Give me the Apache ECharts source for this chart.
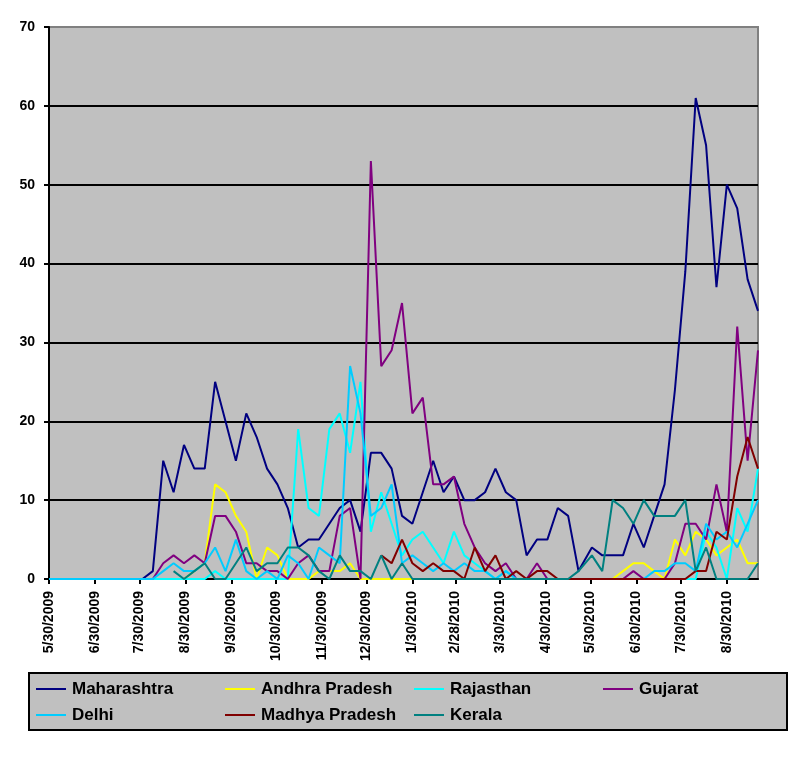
<!DOCTYPE html>
<html>
<head>
<meta charset="utf-8">
<script src="https://cdn.jsdelivr.net/npm/echarts@6/dist/echarts.min.js"></script>
<style>
html,body{margin:0;padding:0;background:#fff;}
#chart{width:791px;height:757px;}
</style>
</head>
<body>
<div id="chart"></div>
<script>
// ---- Data (weekly reports) ----
const weeks = ['2009-05-30','2009-06-06','2009-06-13','2009-06-20','2009-06-27','2009-07-04','2009-07-11','2009-07-18','2009-07-25','2009-08-01','2009-08-08','2009-08-15','2009-08-22','2009-08-29','2009-09-05','2009-09-12','2009-09-19','2009-09-26','2009-10-03','2009-10-10','2009-10-17','2009-10-24','2009-10-31','2009-11-07','2009-11-14','2009-11-21','2009-11-28','2009-12-05','2009-12-12','2009-12-19','2009-12-26','2010-01-02','2010-01-09','2010-01-16','2010-01-23','2010-01-30','2010-02-06','2010-02-13','2010-02-20','2010-02-27','2010-03-06','2010-03-13','2010-03-20','2010-03-27','2010-04-03','2010-04-10','2010-04-17','2010-04-24','2010-05-01','2010-05-08','2010-05-15','2010-05-22','2010-05-31','2010-06-07','2010-06-14','2010-06-21','2010-06-28','2010-07-05','2010-07-12','2010-07-19','2010-07-26','2010-08-02','2010-08-09','2010-08-16','2010-08-23','2010-08-30','2010-09-06','2010-09-13','2010-09-20'];

const tickDates = ['2009-05-30','2009-06-30','2009-07-30','2009-08-30','2009-09-30','2009-10-30','2009-11-30','2009-12-30','2010-01-30','2010-02-28','2010-03-30','2010-04-30','2010-05-30','2010-06-30','2010-07-30','2010-08-30'];
const axisStart = '2009-05-30';
const axisEnd = '2010-09-20';

const seriesNames = ['Maharashtra','Andhra Pradesh','Rajasthan','Gujarat','Delhi','Madhya Pradesh','Kerala'];

const maharashtra = [null,null,null,null,null,null,null,null,null,
 0,1,15,11,17,14,14,25,20,15,21,18,14,12,9,4,5,5,7,9,10,6,
 16,16,14,8,7,11,15,11,13,10,10,11,14,11,10,3,5,5,9,8,1,
 4,3,3,3,7,4,8,12,24,39,61,55,37,50,47,38,34];

const andhraPradesh = [null,null,null,null,null,null,null,null,null,null,null,null,null,
 0,1,2,12,11,8,6,0,4,3,0,0,0,1,1,1,2,0,
 0,0,0,0,0,0,0,0,0,0,0,0,0,0,0,0,0,0,0,0,0,
 0,0,0,1,2,2,1,0,5,3,6,5,3,4,5,2,2];

const rajasthan = [0,0,0,0,0,0,0,0,0,0,0,0,0,0,0,0,1,0,0,0,0,0,0,0,19,9,8,19,21,16,25,
 6,11,7,3,5,6,4,2,6,3,2,1,0,1,0,0,0,0,0,0,0,
 0,0,0,0,0,0,0,0,0,0,0,6,4,0,9,6,14];

const gujarat = [null,null,null,null,null,null,null,null,null,null,
 0,2,3,2,3,2,8,8,6,2,2,1,1,0,2,3,1,1,8,9,0,
 53,27,29,35,21,23,12,12,13,7,4,2,1,2,0,0,2,0,0,0,0,
 0,0,0,0,1,0,0,0,2,7,7,5,12,6,32,15,29];

const delhi = [0,0,0,0,0,0,0,0,0,0,0,1,2,1,1,2,4,1,5,1,0,1,0,3,2,0,4,3,2,27,21,
 8,9,12,2,3,2,1,2,1,2,1,1,0,1,0,0,0,0,0,0,0,
 0,0,0,0,0,0,1,1,2,2,1,7,5,6,4,7,10];

const madhyaPradesh = [null,null,null,null,null,null,null,null,null,null,null,null,null,null,null,null,null,null,null,null,null,null,null,null,null,null,null,null,null,null,null,
 null,3,2,5,2,1,2,1,1,0,4,1,3,0,1,0,1,1,0,0,0,
 0,0,0,0,0,0,0,0,0,0,1,1,6,5,13,18,14];

const kerala = [null,null,null,null,null,null,null,null,null,null,null,null,
 1,0,1,2,0,0,2,4,1,2,2,4,4,3,1,0,3,1,1,
 0,3,0,2,0,0,0,0,0,0,0,0,0,0,0,0,0,0,0,0,1,
 3,1,10,9,7,10,8,8,8,10,1,4,0,0,0,0,2];

const seriesValues = [maharashtra, andhraPradesh, rajasthan, gujarat, delhi, madhyaPradesh, kerala];
const seriesColors = ['#000080','#FFFF00','#00FFFF','#800080','#00CCFF','#800000','#008080'];

// ---- helpers ----
function toTime(s){ const p = s.split('-').map(Number); return Date.UTC(p[0], p[1]-1, p[2]); }
function fmt(v){ const d = new Date(v); return (d.getUTCMonth()+1) + '/' + d.getUTCDate() + '/' + d.getUTCFullYear(); }

const FONT = '"Liberation Sans", Arial, sans-serif';
const weekTimes = weeks.map(toTime);
const labelTimes = tickDates.map(toTime);

const series = seriesNames.map((name, i) => ({
  name: name,
  type: 'line',
  symbol: 'none',
  showSymbol: false,
  connectNulls: false,
  lineStyle: { color: seriesColors[i], width: 2 },
  itemStyle: { color: seriesColors[i] },
  emphasis: { disabled: true },
  data: weekTimes.map((t, k) => [t, seriesValues[i][k]])
}));

const legendCommon = {
  orient: 'vertical',
  icon: 'rect',
  itemWidth: 30,
  itemHeight: 2,
  itemGap: 6,
  selectedMode: false,
  padding: 0,
  textStyle: { fontFamily: FONT, fontSize: 17, fontWeight: 'bold', color: '#000', lineHeight: 20, padding: [0,0,0,1] }
};

const option = {
  animation: false,
  backgroundColor: '#ffffff',
  grid: {
    left: 49, right: 33, top: 27, height: 552,
    show: true, backgroundColor: '#C0C0C0', borderColor: '#808080', borderWidth: 2
  },
  xAxis: {
    type: 'value',
    min: toTime(axisStart),
    max: toTime(axisEnd),
    axisLine: { show: true, onZero: false, lineStyle: { color: '#000', width: 2 } },
    axisTick: { show: true, customValues: labelTimes, length: 5, lineStyle: { color: '#000', width: 2 } },
    axisLabel: {
      customValues: labelTimes,
      rotate: 90,
      margin: 12,
      formatter: fmt,
      fontFamily: FONT, fontSize: 14, fontWeight: 'bold', color: '#000',
      hideOverlap: false
    },
    splitLine: { show: false }
  },
  yAxis: {
    type: 'value',
    min: 0, max: 70, interval: 10,
    axisLine: { show: true, lineStyle: { color: '#000', width: 2 } },
    axisTick: { show: true, length: 5, lineStyle: { color: '#000', width: 2 } },
    axisLabel: { margin: 14, fontFamily: FONT, fontSize: 14, fontWeight: 'bold', color: '#000' },
    splitLine: { show: true, lineStyle: { color: ['#000','#000','#000','#000','#000','#000','#000','#808080'], width: 2 } }
  },
  graphic: [{
    type: 'rect', z: 0,
    shape: { x: 29, y: 673, width: 758, height: 57 },
    style: { fill: '#C0C0C0', stroke: '#000', lineWidth: 2 }
  }],
  legend: [
    Object.assign({}, legendCommon, { left: 36, top: 679, data: ['Maharashtra','Delhi'] }),
    Object.assign({}, legendCommon, { left: 225, top: 679, data: ['Andhra Pradesh','Madhya Pradesh'] }),
    Object.assign({}, legendCommon, { left: 414, top: 679, data: ['Rajasthan','Kerala'] }),
    Object.assign({}, legendCommon, { left: 603, top: 679, data: ['Gujarat'] })
  ],
  series: series
};

const chart = echarts.init(document.getElementById('chart'), null, { renderer: 'canvas' });
chart.setOption(option);
</script>
</body>
</html>
